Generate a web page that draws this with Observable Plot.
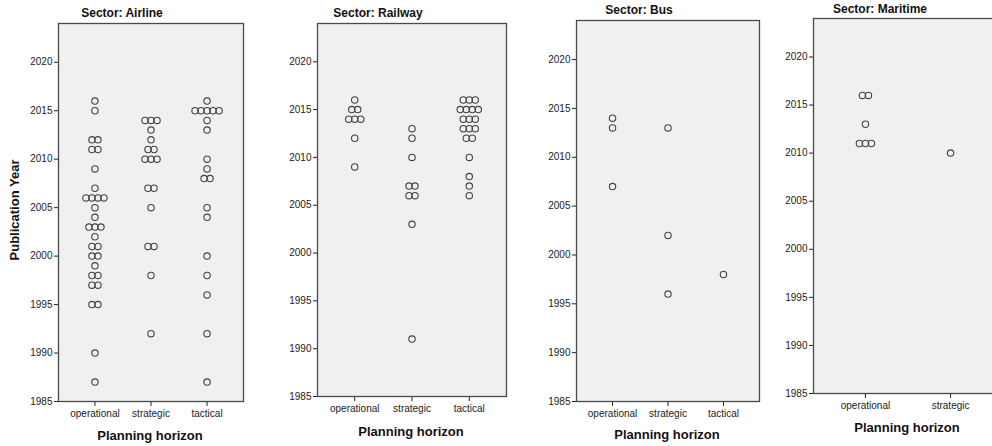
<!DOCTYPE html>
<html>
<head>
<meta charset="utf-8">
<script src="https://cdn.jsdelivr.net/npm/d3@7"></script>
<script src="https://cdn.jsdelivr.net/npm/@observablehq/plot@0.6"></script>
<style>
  html, body { margin: 0; padding: 0; background: #fff; overflow: hidden; }
  #chart { position: relative; width: 992px; height: 446px; overflow: hidden;
           font-family: "Liberation Sans", Arial, sans-serif; color: #222; }
  #chart svg { position: absolute; }
  .lbl { position: absolute; white-space: nowrap; font-weight: bold; color: #111;
         transform: translate(-50%, -50%); }
  .ttl { font-size: 12px; }
  .axt { font-size: 13px; }
</style>
</head>
<body>
<div id="chart"></div>
<script>
// ---- Data (publication years per sector and planning horizon) ----
const sectors = ["Airline", "Railway", "Bus", "Maritime"];
const horizons = ["operational", "strategic", "tactical"];
const yTicks = [1985, 1990, 1995, 2000, 2005, 2010, 2015, 2020];

const airlineOperational = [2016, 2015, 2012, 2012, 2011, 2011, 2009, 2007, 2006, 2006, 2006, 2006,
  2005, 2004, 2003, 2003, 2003, 2002, 2001, 2001, 2000, 2000, 1999, 1998, 1998, 1997, 1997,
  1995, 1995, 1990, 1987];
const airlineStrategic = [2014, 2014, 2014, 2013, 2012, 2011, 2011, 2010, 2010, 2010, 2007, 2007,
  2005, 2001, 2001, 1998, 1992];
const airlineTactical = [2016, 2015, 2015, 2015, 2015, 2015, 2014, 2013, 2010, 2009, 2008, 2008,
  2005, 2004, 2000, 1998, 1996, 1992, 1987];

const railwayOperational = [2016, 2015, 2015, 2014, 2014, 2014, 2012, 2009];
const railwayStrategic = [2013, 2012, 2010, 2007, 2007, 2006, 2006, 2003, 1991];
const railwayTactical = [2016, 2016, 2016, 2015, 2015, 2015, 2015, 2014, 2014, 2014, 2013, 2013, 2013,
  2012, 2012, 2010, 2008, 2007, 2006];

const busOperational = [2014, 2013, 2007];
const busStrategic = [2013, 2002, 1996];
const busTactical = [1998];

const maritimeOperational = [2016, 2016, 2013, 2011, 2011, 2011];
const maritimeStrategic = [2010];

const sectorData = {
  Airline: [airlineOperational, airlineStrategic, airlineTactical],
  Railway: [railwayOperational, railwayStrategic, railwayTactical],
  Bus: [busOperational, busStrategic, busTactical],
  Maritime: [maritimeOperational, maritimeStrategic]
};

// ---- Layout (pixel geometry of each panel's frame) ----
const layout = {
  Airline:  {left: 58,  right: 243,  top: 23, bottom: 401, pad: 0.65, title: [122, 13], xt: [150, 435]},
  Railway:  {left: 317, right: 506,  top: 23, bottom: 396, pad: 0.65, title: [378, 13], xt: [411, 431]},
  Bus:      {left: 576, right: 759,  top: 20, bottom: 401, pad: 0.65, title: [639, 10], xt: [667, 434]},
  Maritime: {left: 813, right: 1002, top: 18, bottom: 393, pad: 0.61, title: [880, 9],  xt: [907, 427]}
};

const chart = document.getElementById("chart");
const mL = 45, mR = 3, mT = 3, mB = 22;
const dotGap = 6; // horizontal spacing (px) between tied points

function addLabel(text, x, y, cls, rotate) {
  const d = document.createElement("div");
  d.className = "lbl " + cls;
  d.textContent = text;
  d.style.left = x + "px";
  d.style.top = y + "px";
  if (rotate) d.style.transform = "translate(-50%, -50%) rotate(-90deg)";
  chart.appendChild(d);
}

for (const s of sectors) {
  const L = layout[s];
  const groups = sectorData[s];
  const n = groups.length;
  const fw = L.right - L.left, fh = L.bottom - L.top;
  const domain = [-L.pad, n - 1 + L.pad];
  const stepPx = fw / (domain[1] - domain[0]);
  const rows = [];
  groups.forEach((years, h) => {
    const counts = d3.rollup(years, v => v.length, d => d);
    const seen = new Map();
    for (const yr of years) {
      const k = seen.get(yr) || 0; seen.set(yr, k + 1);
      const c = counts.get(yr);
      rows.push({horizon: horizons[h], year: yr, x: h + (k - (c - 1) / 2) * dotGap / stepPx});
    }
  });

  const svg = Plot.plot({
    width: mL + fw + mR,
    height: mT + fh + mB,
    marginLeft: mL, marginRight: mR, marginTop: mT, marginBottom: mB,
    style: {fontFamily: "'Liberation Sans', Arial, sans-serif", fontSize: "10px", color: "#222", background: "transparent", overflow: "visible"},
    x: {domain, ticks: d3.range(n), tickFormat: i => horizons[i], tickSize: 5, tickPadding: 3, label: null},
    y: {domain: [1985, 2024], ticks: yTicks, tickFormat: d3.format("d"), tickSize: 4, tickPadding: 2, label: null},
    marks: [
      Plot.frame({fill: "#f0f0f0", stroke: "#4a4a4a", strokeWidth: 1.3}),
      Plot.dot(rows, {x: "x", y: "year", r: 3.2, stroke: "#444", strokeWidth: 1.1, fill: "none"})
    ]
  });
  svg.style.left = (L.left - mL) + "px";
  svg.style.top = (L.top - mT) + "px";
  chart.appendChild(svg);

  addLabel("Sector: " + s, L.title[0], L.title[1], "ttl");
  addLabel("Planning horizon", L.xt[0], L.xt[1], "axt");
}
addLabel("Publication Year", 14, 210, "axt", true);
</script>
</body>
</html>
